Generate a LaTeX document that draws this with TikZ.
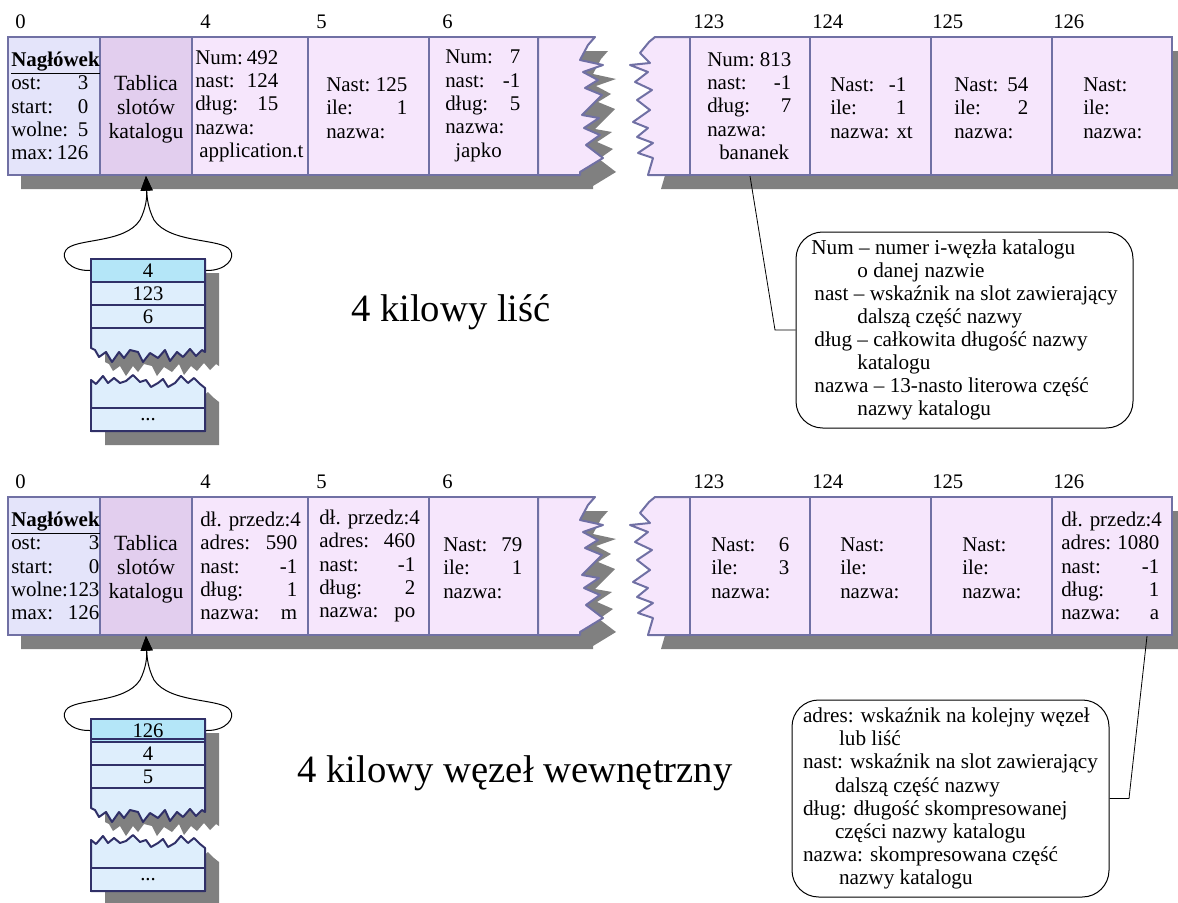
\documentclass[tikz,border=0pt]{standalone}
\usepackage{fontspec}
\setmainfont{Liberation Serif}
\usetikzlibrary{arrows.meta, positioning}
\definecolor{hdrcol}{RGB}{228,228,250}
\definecolor{tabcol}{RGB}{226,206,238}
\definecolor{slotcol}{RGB}{246,230,252}
\definecolor{edgecol}{RGB}{112,112,164}
\definecolor{shadecol}{RGB}{128,128,128}
\definecolor{stkcol}{RGB}{222,238,252}
\definecolor{stktop}{RGB}{180,230,248}
\definecolor{stkedge}{RGB}{48,48,104}
\newdimen\pxu \pxu=0.75pt
\newcommand{\kv}[3]{\makebox[#1\pxu]{#2\hfill#3}}

\begin{document}
\begin{tikzpicture}[
    x=0.75pt, y=-0.75pt,
    cell/.style={rectangle, draw=edgecol, line width=1.5pt, fill=slotcol,
                 inner sep=0pt, minimum height=103.5pt, minimum width=#1*0.75pt},
    piece/.style={draw=edgecol, line width=1.5pt, fill=slotcol, line join=round},
    shade/.style={fill=shadecol},
    txt/.style={font=\fontsize{15.7}{17.5}\selectfont, align=left, inner sep=0pt, anchor=west},
    tabtxt/.style={font=\fontsize{16.3}{18}\selectfont, align=center, inner sep=0pt},
    idx/.style={font=\fontsize{15.5}{18}\selectfont, inner sep=0pt, anchor=base west},
    stk/.style={rectangle, draw=stkedge, line width=1.5pt, fill=stkcol, inner sep=0pt,
                minimum width=85.5pt, minimum height=17.25pt, font=\fontsize{15.5}{18}\selectfont},
    stkpiece/.style={draw=stkedge, line width=1.5pt, fill=stkcol, line join=round},
    brace/.style={line width=0.75pt, -{Triangle[width=9pt, length=11pt]}},
    legend/.style={draw, line width=0.75pt, rounded corners=20pt, align=left,
                   inner sep=0pt, font=\fontsize{15.9}{17.3}\selectfont},
    lead/.style={line width=0.6pt},
    big/.style={font=\fontsize{29}{34}\selectfont, inner sep=0pt, anchor=base},
    zigl/.style={insert path={-- (588,45) -- (580,60) -- (603,65) -- (583,72) -- (598,80)
        -- (585,88) -- (602,95) -- (582,115) -- (599,118) -- (584,128) -- (600,135)
        -- (586,145) -- (603,158) -- (580,172) -- (580,175)}},
    zigr/.style={insert path={-- (649,42) -- (640,53) -- (650,63) -- (630,65) -- (648,72)
        -- (635,82) -- (652,90) -- (637,100) -- (650,110) -- (633,122) -- (648,128)
        -- (637,137) -- (653,143) -- (638,153) -- (653,158) -- (648,175)}},
    zigs/.style={insert path={-- (202,350) -- (196,356) -- (190,349) -- (183,357) -- (177,352)
        -- (170,361) -- (165,350) -- (158,358) -- (150,353) -- (143,362) -- (138,352)
        -- (130,350) -- (124,358) -- (119,352) -- (112,362) -- (106,352) -- (99,357)
        -- (95,350) -- (91,348)}},
    zigt/.style={insert path={-- (96,384) -- (103,376) -- (108,383) -- (114,378) -- (120,383)
        -- (126,381) -- (133,375) -- (140,382) -- (146,380) -- (151,387) -- (158,383)
        -- (163,379) -- (168,387) -- (175,383) -- (181,376) -- (188,383) -- (194,378)
        -- (200,384) -- (205,388)}},
  ]
  \useasboundingbox (0,0) rectangle (1178,903);

  % ── both pages: frames, stacks and pointers ──
  \foreach \rw/\dy/\sa/\sb/\sc in {a/0/4/123/6, b/460/126/4/5} {
    \begin{scope}[shift={(0,\dy)}]
      % shadows
      \fill[shade, shift={(13,14)}] (8,37) -- (595,37) [zigl] -- (8,175) -- cycle;
      \fill[shade, shift={(13,14)}] (655,37) [zigr] -- (1172,175) -- (1172,37) -- cycle;
      \fill[shade, shift={(14,14)}] (91,259) -- (205,259) -- (205,352) [zigs] -- cycle;
      \fill[shade, shift={(14,14)}] (91,380) [zigt] -- (205,431) -- (91,431) -- cycle;

      % slots
      \node[cell=92, fill=hdrcol] (\rw-0) at (54,106) {};
      \node[cell=92, fill=tabcol] (\rw-1) at (146,106) {};
      \node[cell=116] (\rw-4) at (250,106) {};
      \node[cell=121] (\rw-5) at (368.5,106) {};
      \node[cell=109] (\rw-6) at (483.5,106) {};
      \filldraw[piece] (538,37) -- (595,37) [zigl] -- (538,175) -- cycle;
      \filldraw[piece] (655,37) [zigr] -- (690,175) -- (690,37) -- cycle;
      \node[cell=120] (\rw-123) at (750,106) {};
      \node[cell=121] (\rw-124) at (870.5,106) {};
      \node[cell=121] (\rw-125) at (991.5,106) {};
      \node[cell=120] (\rw-126) at (1112,106) {};

      % slot numbers
      \foreach \lab/\lx in {0/15, 4/200, 5/316, 6/442, 123/693, 124/812, 125/932, 126/1053}
        \node[idx] (\rw-i\lab) at (\lx,28) {\lab};

      % slot table
      \filldraw[stkpiece] (91,259) -- (205,259) -- (205,352) [zigs] -- cycle;
      \filldraw[stkpiece] (91,380) [zigt] -- (205,431) -- (91,431) -- cycle;
      \node[stk, fill=stktop] (\rw-s1) at (148,270.5) {\sa};
      \node[stk] (\rw-s2) at (148,293.5) {\sb};
      \node[stk] (\rw-s3) at (148,316.5) {\sc};
      \node[stk] (\rw-s4) at (148,419.5) {...};

      \draw[brace] (\rw-s1.west) .. controls (70,271) and (60,258) .. (66,250)
        .. controls (74,238) and (125,244) .. (140,220)
        .. controls (146,208) and (147,198) .. (\rw-1.south);
      \draw[brace] (\rw-s1.east) .. controls (226,271) and (236,258) .. (230,250)
        .. controls (222,238) and (170,244) .. (154,220)
        .. controls (148,208) and (147,198) .. (\rw-1.south);
    \end{scope}
  }
  \draw[draw=stkedge, line width=1pt] (91,739) -- (205,739);

  % ── leaf ──
  \node[txt] (a-0t) at (11,106) {\underline{\textbf{Nagłówek}}\\ \kv{77}{ost:}{3}\\
    \kv{77}{start:}{0}\\ \kv{77}{wolne:}{5}\\ \kv{77}{max:}{126}};
  \node[tabtxt] (a-1t) at (146,109) {Tablica\\slotów\\katalogu};
  \node[txt] (a-4t) at (195,106) {\kv{83}{Num:}{492}\\ \kv{83}{nast:}{124}\\
    \kv{83}{dług:}{15}\\ nazwa:\\ \hspace*{4\pxu}application.t};
  \node[txt] (a-5t) at (326,108) {\kv{81}{Nast:}{125}\\ \kv{81}{ile:}{1}\\ nazwa:};
  \node[txt] (a-6t) at (445,106) {\kv{75}{Num:}{7}\\ \kv{75}{nast:}{-1}\\
    \kv{75}{dług:}{5}\\ nazwa:\\ \hspace*{10\pxu}japko};
  \node[txt] (a-123t) at (707,106) {\kv{84}{Num:}{813}\\ \kv{84}{nast:}{-1}\\
    \kv{84}{dług:}{7}\\ nazwa:\\ \hspace*{12\pxu}bananek};
  \node[txt] (a-124t) at (830,108) {\kv{76}{Nast:}{-1}\\ \kv{76}{ile:}{1}\\ nazwa: xt};
  \node[txt] (a-125t) at (954,108) {\kv{74}{Nast:}{54}\\ \kv{74}{ile:}{2}\\ nazwa:};
  \node[txt] (a-126t) at (1083,108) {Nast:\\ ile:\\ nazwa:};

  \node[big] (leaf) at (451,321) {4 kilowy liść};

  \node[legend, minimum width=252.75pt, minimum height=147pt] (legA) at (964.5,330)
    {Num – numer i-węzła katalogu\\
     \hspace*{46\pxu}o danej nazwie\\
     \hspace*{3\pxu}nast – wskaźnik na slot zawierający\\
     \hspace*{46\pxu}dalszą część nazwy\\
     \hspace*{3\pxu}dług – całkowita długość nazwy\\
     \hspace*{46\pxu}katalogu\\
     \hspace*{3\pxu}nazwa – 13-nasto literowa część\\
     \hspace*{46\pxu}nazwy katalogu};
  \coordinate (kneeA) at (775,330);
  \draw[lead] (a-123.south) -- (kneeA) -- (legA.west);

  % ── inner node ──
  \node[txt] (b-0t) at (11,566) {\underline{\textbf{Nagłówek}}\\ \kv{88}{ost:}{3}\\
    \kv{88}{start:}{0}\\ \kv{88}{wolne:}{123}\\ \kv{88}{max:}{126}};
  \node[tabtxt] (b-1t) at (146,569) {Tablica\\slotów\\katalogu};
  \node[txt] (b-4t) at (200,566) {dł. przedz:4\\ \kv{97}{adres:}{590}\\
    \kv{97}{nast:}{-1}\\ \kv{97}{dług:}{1}\\ \kv{97}{nazwa:}{m}};
  \node[txt] (b-5t) at (319,566) {dł. przedz:4\\ \kv{96}{adres:}{460}\\
    \kv{96}{nast:}{-1}\\ \kv{96}{dług:}{2}\\ \kv{96}{nazwa:}{po}};
  \node[txt] (b-6t) at (443,568) {\kv{79}{Nast:}{79}\\ \kv{79}{ile:}{1}\\ nazwa:};
  \node[txt] (b-123t) at (711,568) {\kv{78}{Nast:}{6}\\ \kv{78}{ile:}{3}\\ nazwa:};
  \node[txt] (b-124t) at (840,568) {Nast:\\ ile:\\ nazwa:};
  \node[txt] (b-125t) at (962,568) {Nast:\\ ile:\\ nazwa:};
  \node[txt] (b-126t) at (1061,566) {dł. przedz:4\\ \kv{98}{adres:}{1080}\\
    \kv{98}{nast:}{-1}\\ \kv{98}{dług:}{1}\\ \kv{98}{nazwa:}{a}};

  \node[big] (inner) at (515,782) {4 kilowy węzeł wewnętrzny};

  \node[legend, minimum width=237.75pt, minimum height=147.75pt] (legB) at (950.5,798.5)
    {adres: wskaźnik na kolejny węzeł\\
     \hspace*{36\pxu}lub liść\\
     nast: wskaźnik na slot zawierający\\
     \hspace*{32\pxu}dalszą część nazwy\\
     dług: długość skompresowanej\\
     \hspace*{32\pxu}części nazwy katalogu\\
     nazwa: skompresowana część\\
     \hspace*{36\pxu}nazwy katalogu};
  \coordinate (kneeB) at (1129,798.5);
  \draw[lead] ([xshift=26.25pt]b-126.south) -- (kneeB) -- (legB.east);
\end{tikzpicture}
\end{document}
